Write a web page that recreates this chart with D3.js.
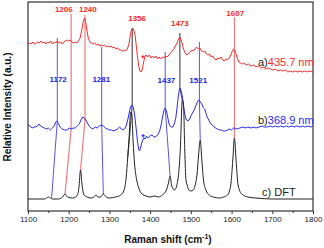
<!DOCTYPE html>
<html lang="en">
<head>
  <meta charset="UTF-8">
  <script src="https://d3js.org/d3.v7.min.js"></script>
  <title>Raman spectra</title>
  <style>
    body { margin: 0; background: #fff; }
    svg { display: block; font-family: "Liberation Sans", Arial, sans-serif; }
  </style>
</head>
<body>
  <svg id="chart" width="324" height="248"></svg>
  <script>
    // tick labels of x axis
    const xTicks = [1100, 1200, 1300, 1400, 1500, 1600, 1700, 1800];
    const xMinor = [1150, 1250, 1350, 1450, 1550, 1650, 1750];

    // a) 435.7 nm  [shift, intensity]
    const specA = [
      [1100,168],[1104,169],[1108,168],[1112,170],[1116,168],[1120,169],[1124,170],[1128,169],[1132,171],[1136,169],
      [1140,170],[1144,168],[1148,170],[1152,169],[1156,171],[1160,168],[1164,170],[1168,169],[1172,171],[1176,169],
      [1180,170],[1184,168],[1188,170],[1192,171],[1196,172],[1200,171],[1204,172],[1208,170],[1212,169],[1216,170],
      [1220,169],[1224,171],[1228,174],[1232,182],[1236,191],[1239,194],[1242,189],[1245,181],[1248,174],[1252,170],
      [1256,169],[1260,168],[1264,169],[1268,167],[1272,168],[1276,166],[1280,167],[1284,166],[1288,167],[1292,165],
      [1296,166],[1300,165],[1304,166],[1308,164],[1312,165],[1316,163],[1320,164],[1324,162],[1328,162],[1332,161],
      [1336,162],[1340,161],[1344,163],[1348,168],[1351,176],[1354,182],[1357,184],[1360,182],[1363,177],[1366,166],
      [1369,155],[1372,146],[1375,141],[1378,140],[1381,143],[1384,150],[1387,155],[1390,157],[1394,155],[1398,157],
      [1402,154],[1406,156],[1410,154],[1414,156],[1418,153],[1422,155],[1426,153],[1430,155],[1434,154],[1438,156],
      [1442,155],[1446,157],[1450,159],[1454,161],[1458,163],[1462,166],[1466,169],[1470,173],[1473,175],[1476,172],
      [1479,168],[1482,163],[1486,159],[1490,157],[1494,158],[1498,160],[1502,162],[1506,161],[1510,163],[1514,165],
      [1518,163],[1522,164],[1526,161],[1530,160],[1534,161],[1538,158],[1542,157],[1546,158],[1550,155],[1554,156],
      [1558,153],[1562,152],[1566,154],[1570,153],[1574,155],[1578,152],[1582,151],[1586,153],[1590,152],[1594,154],
      [1598,157],[1602,161],[1605,163],[1608,162],[1611,158],[1614,154],[1618,150],[1622,149],[1626,148],[1630,149],
      [1636,147],[1642,148],[1648,146],[1654,147],[1660,145],[1666,146],[1672,144],[1678,145],[1684,143],[1690,144],
      [1696,143],[1702,142],[1708,143],[1714,141],[1720,142],[1726,141],[1732,142],[1738,140],[1744,141],[1750,140],
      [1756,141],[1762,140],[1768,141],[1774,140],[1780,141],[1786,140],[1792,141],[1800,140]
    ];

    // b) 368.9 nm
    const specB = [
      [1100,87],[1105,86],[1110,84],[1115,85],[1120,85],[1127,88],[1131,86],[1135,85],[1140,84],[1145,83],
      [1150,84],[1155,82],[1160,84],[1164,86],[1168,90],[1171,91],[1175,88],[1179,85],[1184,83],[1190,82],
      [1196,82],[1201,84],[1206,83],[1211,84],[1216,84],[1221,86],[1226,88],[1230,92],[1234,95],[1238,94],
      [1242,92],[1246,89],[1250,86],[1255,84],[1260,83],[1265,85],[1270,84],[1275,86],[1280,87],[1285,86],
      [1290,84],[1295,83],[1300,82],[1305,82],[1310,81],[1315,82],[1320,83],[1325,85],[1329,83],[1333,82],
      [1337,83],[1341,86],[1346,94],[1350,102],[1353,106],[1356,107],[1359,104],[1362,97],[1366,82],[1369,70],
      [1372,63],[1374,61],[1377,65],[1380,70],[1384,74],[1388,73],[1391,76],[1395,74],[1398,75],[1402,77],
      [1405,77],[1409,75],[1412,75],[1416,76],[1420,78],[1424,82],[1427,87],[1431,96],[1434,102],[1437,104],
      [1440,101],[1443,95],[1446,89],[1449,86],[1452,85],[1456,85],[1460,89],[1463,94],[1466,104],[1469,115],
      [1472,123],[1474,124],[1477,120],[1480,113],[1483,103],[1486,96],[1489,92],[1493,91],[1497,93],[1500,96],
      [1504,99],[1508,102],[1512,106],[1516,110],[1519,112],[1522,111],[1525,109],[1528,107],[1531,104],[1534,103],
      [1537,99],[1540,95],[1544,92],[1548,89],[1552,87],[1556,86],[1560,84],[1565,83],[1570,82],[1575,82],
      [1580,81],[1585,81],[1590,82],[1595,83],[1600,82],[1605,84],[1612,83],[1620,84],[1628,85],[1635,84],
      [1640,85],[1648,84],[1655,85],[1660,84],[1668,85],[1675,86],[1680,85],[1688,85],[1695,86],[1700,85],
      [1708,86],[1715,85],[1720,86],[1728,85],[1735,86],[1740,85],[1748,86],[1755,85],[1760,86],[1768,85],
      [1775,86],[1780,85],[1788,86],[1795,85],[1800,86]
    ];

    // c) DFT
    const specC = [
      [1100,13],[1120,13],[1140,13],[1146,14],[1150,15],[1155,14],[1160,13],[1175,13],[1185,15],[1191,18],
      [1197,15],[1210,14],[1220,16],[1225,24],[1229,42],[1233,26],[1238,17],[1245,15],[1255,14],[1262,15],
      [1267,17],[1272,15],[1278,15],[1285,18],[1292,15],[1300,14],[1315,15],[1328,17],[1336,22],[1341,34],
      [1345,55],[1348,72],[1352,100],[1355,98],[1358,72],[1362,47],[1367,32],[1372,24],[1380,18],[1390,16],
      [1400,15],[1410,16],[1420,15],[1430,17],[1440,22],[1445,29],[1449,36],[1453,26],[1460,22],[1468,32],
      [1474,62],[1479,112],[1482,107],[1485,62],[1488,32],[1491,27],[1495,22],[1500,21],[1506,22],[1510,26],
      [1515,37],[1519,57],[1523,72],[1527,52],[1531,32],[1537,22],[1545,17],[1555,15],[1570,14],[1580,15],
      [1590,17],[1598,27],[1603,52],[1607,74],[1611,52],[1616,27],[1625,18],[1640,15],[1660,14],[1700,13],
      [1800,13]
    ];

    // correlation lines between bands  [shift, intensity]
    const linkRed = [
      [[1206,198],[1206,83],[1191,18]],
      [[1240,197],[1240,92],[1229,42]],
      [[1607,195],[1607,74]]
    ];
    const linkBlue = [
      [[1172,174],[1172,91],[1158,14]],
      [[1281,165],[1281,87],[1285,18]],
      [[1437,160],[1437,104],[1449,36]],
      [[1521,170],[1521,112],[1523,72]]
    ];
    const linkGray = [
      [[1356,184],[1356,107],[1345,55]],
      [[1473,179],[1473,124],[1479,112]]
    ];

    // band labels: text, shift, intensity of baseline
    const labelsRed = [["1206",1188,200],["1240",1247,200],["1356",1368,191],["1473",1473,186],["1607",1609,196]];
    const labelsBlue = [["1172",1174,130],["1281",1280,130],["1437",1440,129],["1521",1518,129]];

    const svg = d3.select("#chart");
    const xScale = d3.scaleLinear().domain([1100, 1800]).range([28, 313]);
    const yScale = d3.scaleLinear().domain([0, 210]).range([212, 2]);

    // axes
    const xAxis = d3.axisBottom(xScale).tickValues(xTicks).tickSize(3).tickPadding(2).tickFormat(d3.format("d"));
    svg.append("g").attr("id", "xAxisG")
      .attr("transform", "translate(0,211)")
      .call(xAxis);
    svg.append("g").attr("id", "xMinorG")
      .attr("transform", "translate(0,211)")
      .call(d3.axisBottom(xScale).tickValues(xMinor).tickSize(2).tickFormat(""));
    svg.selectAll("#xAxisG path.domain, #xMinorG path.domain").remove();
    svg.selectAll("#xAxisG text").style("font-size", "8px").style("fill", "#222");
    svg.selectAll("#xAxisG line, #xMinorG line").style("stroke", "#333");

    const line = d3.line().x(d => xScale(d[0])).y(d => yScale(d[1]));

    // correlation lines (behind spectra)
    svg.selectAll("path.linkRed").data(linkRed).enter().append("path")
      .attr("class", "linkRed").attr("d", line)
      .style("fill", "none").style("stroke", "#f27a7a").style("stroke-width", 1.2);
    svg.selectAll("path.linkBlue").data(linkBlue).enter().append("path")
      .attr("class", "linkBlue").attr("d", line)
      .style("fill", "none").style("stroke", "#5555ee").style("stroke-width", 1);
    svg.selectAll("path.linkGray").data(linkGray).enter().append("path")
      .attr("class", "linkGray").attr("d", line)
      .style("fill", "none").style("stroke", "#555").style("stroke-width", 1.2);

    // spectra
    svg.append("path").datum(specA).attr("d", line)
      .style("fill", "none").style("stroke", "#ff2a2a").style("stroke-width", 1);
    svg.append("path").datum(specB).attr("d", line)
      .style("fill", "none").style("stroke", "#2a2aff").style("stroke-width", 1);
    svg.append("path").datum(specC).attr("d", line.curve(d3.curveMonotoneX))
      .style("fill", "none").style("stroke", "#222").style("stroke-width", 1);

    // frame
    svg.append("rect").attr("x", 28).attr("y", 2).attr("width", 285).attr("height", 209)
      .style("fill", "none").style("stroke", "#333").style("stroke-width", 1.2);

    // band labels
    svg.selectAll("text.lblRed").data(labelsRed).enter().append("text")
      .attr("class", "lblRed")
      .attr("x", d => xScale(d[1])).attr("y", d => yScale(d[2]))
      .attr("text-anchor", "middle")
      .style("font-size", "8px").style("font-weight", "bold").style("fill", "#ff1f1f")
      .text(d => d[0]);
    svg.selectAll("text.lblBlue").data(labelsBlue).enter().append("text")
      .attr("class", "lblBlue")
      .attr("x", d => xScale(d[1])).attr("y", d => yScale(d[2]))
      .attr("text-anchor", "middle")
      .style("font-size", "8px").style("font-weight", "bold").style("fill", "#2323e6")
      .text(d => d[0]);

    // asterisks
    svg.append("text").attr("x", 143).attr("y", 61).attr("text-anchor", "middle")
      .style("font-size", "9px").style("font-weight", "bold").style("fill", "#ff2a2a").text("*");
    svg.append("text").attr("x", 143).attr("y", 140).attr("text-anchor", "middle")
      .style("font-size", "9px").style("font-weight", "bold").style("fill", "#2a2aff").text("*");

    // spectrum names
    const ta = svg.append("text").attr("x", 258).attr("y", 66).style("font-size", "11px");
    ta.append("tspan").style("fill", "#222").text("a)");
    ta.append("tspan").style("fill", "#ff2a2a").text("435.7 nm");
    const tb = svg.append("text").attr("x", 258).attr("y", 124).style("font-size", "11px");
    tb.append("tspan").style("fill", "#222").text("b)");
    tb.append("tspan").style("fill", "#2a2aff").text("368.9 nm");
    svg.append("text").attr("x", 262).attr("y", 196).style("font-size", "11px").style("fill", "#222")
      .text("c) DFT");

    // axis titles
    const xt = svg.append("text").attr("x", 168).attr("y", 243).attr("text-anchor", "middle")
      .style("font-size", "10px").style("font-weight", "bold").style("fill", "#111");
    xt.append("tspan").text("Raman shift (cm");
    xt.append("tspan").attr("dy", -4).style("font-size", "7px").text("-1");
    xt.append("tspan").attr("dy", 4).text(")");

    svg.append("text").attr("transform", "translate(11,107) rotate(-90)")
      .attr("text-anchor", "middle")
      .style("font-size", "10px").style("font-weight", "bold").style("fill", "#111")
      .text("Relative Intensity (a.u.)");
  </script>
</body>
</html>
